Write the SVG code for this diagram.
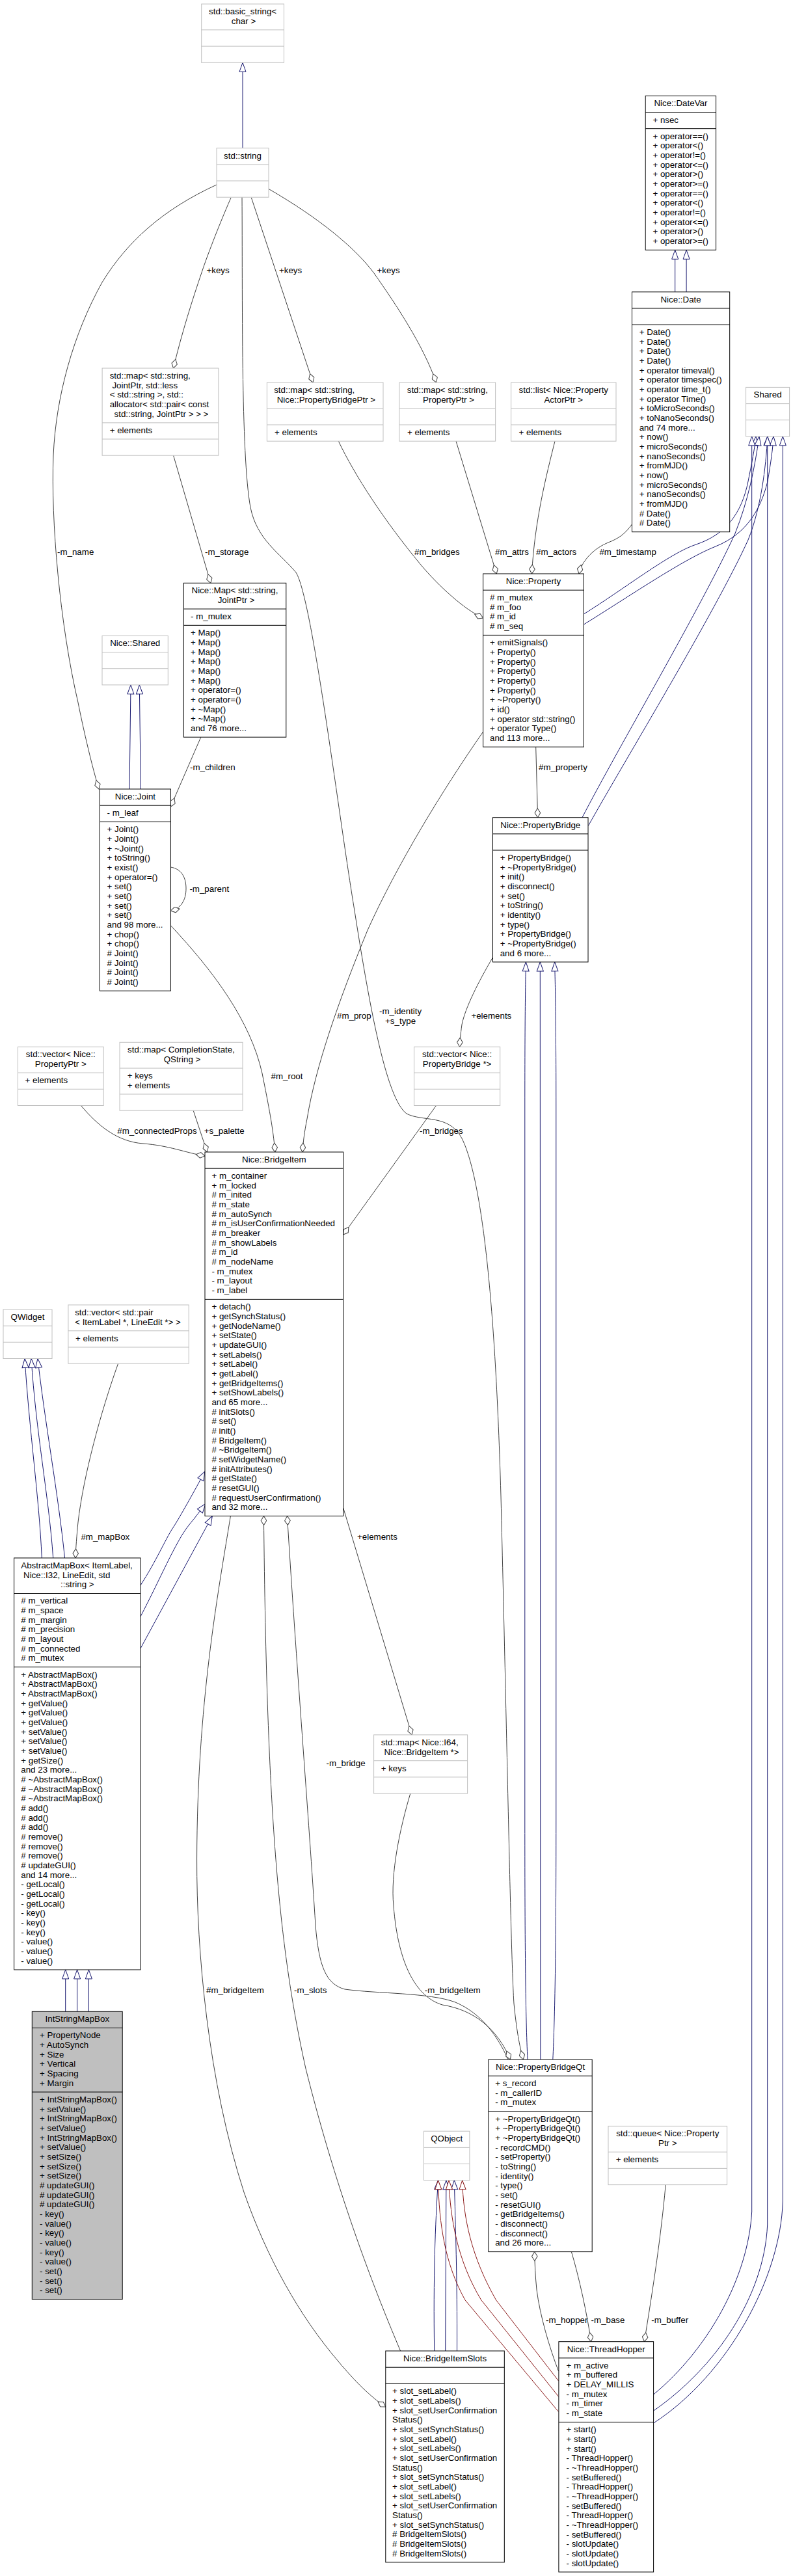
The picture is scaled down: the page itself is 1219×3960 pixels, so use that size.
<svg xmlns="http://www.w3.org/2000/svg" width="1219" height="3960" viewBox="0 0 1219 3960">
<style>
text { font-family: "Liberation Sans", Arial, Helvetica, sans-serif; font-size: 13.33px; fill: #000; }
.c { text-anchor: middle; }
.nb rect, .nb path { fill: #fff; stroke: #000; stroke-width: 1; }
.ng rect, .ng path { fill: #fff; stroke: #bfbfbf; stroke-width: 1; }
.nb path, .ng path { fill: none; }
.nb rect.hl { fill: #bfbfbf; }
.e path { fill: none; stroke: #404040; stroke-width: 1; marker-end: url(#dia); }
.i path { fill: none; stroke: #191970; stroke-width: 1; marker-end: url(#tri); }
.r path { fill: none; stroke: #8b1a1a; stroke-width: 1; marker-end: url(#trir); }
</style>
<defs>
<marker id="dia" viewBox="0 0 16 10" refX="15" refY="5" markerWidth="16" markerHeight="10" markerUnits="userSpaceOnUse" orient="auto"><path d="M1,5 L8,0.7 L15,5 L8,9.3 Z" fill="#fff" stroke="#404040" stroke-width="1"/></marker>
<marker id="tri" viewBox="0 0 16 12" refX="15" refY="6" markerWidth="16" markerHeight="12" markerUnits="userSpaceOnUse" orient="auto"><path d="M1,1 L15,6 L1,11 Z" fill="#fff" stroke="#191970" stroke-width="1"/></marker>
<marker id="trir" viewBox="0 0 16 12" refX="15" refY="6" markerWidth="16" markerHeight="12" markerUnits="userSpaceOnUse" orient="auto"><path d="M1,1 L15,6 L1,11 Z" fill="#fff" stroke="#8b1a1a" stroke-width="1"/></marker>
</defs>
<rect x="0" y="0" width="1219" height="3960" fill="#fff"/>

<g id="connectors">
<g class="i">
<path d="M373,227.7 L373,96.3"/>
<path d="M1037.7,448.8 L1037.7,384.3"/>
<path d="M1055.1,448.8 L1055.1,384.3"/>
<path d="M199,1213 L201,1052.9"/>
<path d="M216.4,1213 L214.3,1052.9"/>
<path d="M897.4,944 C960,905 1030,850 1070,837 C1115,822 1140,790 1150,740 C1156,710 1160,690 1162,670.9"/>
<path d="M897.4,960 C970,915 1050,860 1100,840 C1150,820 1170,780 1180,740 C1185,710 1188,690 1189,670.9"/>
<path d="M895,1256.7 C950,1150 1080,930 1130,820 C1150,770 1160,720 1167,670.9"/>
<path d="M904.4,1269.3 C960,1170 1100,940 1150,830 C1170,780 1177,720 1180,670.9"/>
<path d="M1004.6,3681 C1090,3610 1150,3500 1155.7,3400 L1155.7,670.9"/>
<path d="M1004.6,3706 C1100,3640 1175,3530 1179.7,3420 L1179.7,670.9"/>
<path d="M1004.6,3725 C1120,3650 1200,3500 1203.3,3384 L1203.3,670.9"/>
<path d="M811,3166 C808,3100 806.8,3000 806.8,2800 L806.8,1700 C806.8,1550 808,1500 808.4,1478.9"/>
<path d="M830.8,3166 L830.3,1478.9"/>
<path d="M849.8,3166 C853,3100 854.8,3000 854.8,2800 L854.8,1700 C854.8,1550 853,1500 852.7,1478.9"/>
<path d="M216,2437 C240,2400 255,2365 265,2350 C275,2335 300,2290 315,2262"/>
<path d="M216,2485 C245,2430 270,2370 290,2345 C300,2333 308,2322 316,2311.7"/>
<path d="M216,2534 L326.3,2330.6"/>
<path d="M64.3,2395 C60,2300 45,2200 38.1,2088.5"/>
<path d="M81.7,2395 C75,2300 55,2200 48.1,2088.5"/>
<path d="M99.5,2395 C90,2300 68,2180 58,2088.5"/>
<path d="M100.7,3092.3 L100.7,3028"/>
<path d="M118.6,3092.3 L118.6,3028"/>
<path d="M136.4,3092.3 L136.4,3028"/>
<path d="M667.7,3614 C666,3500 669,3420 673.5,3351.7"/>
<path d="M684.7,3614 L685.9,3351.7"/>
<path d="M702.5,3614 C703,3500 700,3420 698.3,3351.7"/>
</g>
<g class="r">
<path d="M858.5,3660 L762.5,3535.7 C725,3470 712,3410 710.7,3351.7"/>
<path d="M858.5,3684 L739.7,3535.7 C703,3475 692,3410 690,3351.7"/>
<path d="M858.5,3707.4 L714.9,3535.7 C684,3480 675,3420 673.5,3351.7"/>
</g>
<g class="e">
<path d="M355,304 C335,350 318,395 311,416 C296,460 280,510 266.5,566"/>
<path d="M386.4,304 L481,588"/>
<path d="M413.3,290.6 C490,335 545,380 575,420 C610,470 650,530 670.6,588"/>
<path d="M333,284 C250,322 195,372 157,434 C112,515 86,610 82,700 C78,800 92,960 120,1080 C132,1140 145,1190 152,1213"/>
<path d="M266.6,700.3 L323.8,896.3"/>
<path d="M520.3,678.2 C545,730 590,800 650,872 C685,912 720,940 742.6,950"/>
<path d="M701,678.2 L763.3,882"/>
<path d="M853,678.2 C840,730 822,800 817.5,882"/>
<path d="M971.5,806 C960,822 950,828 935,834 C915,842 895,860 890,882"/>
<path d="M823.7,1148.2 L826.6,1256.7"/>
<path d="M308.8,1133.2 L262.4,1240"/>
<path d="M262.4,1333 C280,1336 286,1350 286,1366 C286,1385 277,1397 262.4,1400"/>
<path d="M262.4,1422.8 C330,1495 385,1570 403,1650 C413,1700 420,1735 422.8,1771"/>
<path d="M742.6,1125 C680,1215 610,1330 565,1430 C520,1540 485,1640 472,1720 C468,1740 466,1755 465,1771"/>
<path d="M372,303.2 C373,450 370,700 385,780 C395,830 430,850 455,880 C480,920 520,1250 545,1400 C570,1560 595,1690 625,1712 C650,1725 690,1712 710,1750 C735,1800 760,1950 770,2300 C780,2700 785,3000 790,3080 C795,3130 800,3150 804.3,3166"/>
<path d="M757.5,1471.8 C735,1510 715,1550 710,1575 C708,1590 707,1600 706.6,1609.3"/>
<path d="M670.6,1699.5 L527.7,1898"/>
<path d="M124.4,1699.5 C150,1730 180,1755 220,1758 C260,1761 285,1772 315,1777"/>
<path d="M297.2,1707.2 L318.4,1771"/>
<path d="M527.7,2318 L633,2666.9"/>
<path d="M181.6,2096.2 C155,2170 128,2270 120,2340 C118,2360 116.5,2380 116,2395"/>
<path d="M781,3166 C765,3130 740,3095 700,3078 C660,3063 580,3065 530,3058 C500,3050 490,3020 485,2960 C475,2800 455,2550 441.5,2330.6"/>
<path d="M630.8,2757.1 C615,2810 600,2880 605,2930 C612,3020 640,3070 680,3082 C730,3090 765,3120 784.4,3166"/>
<path d="M615.6,3614 C580,3530 520,3380 470,3180 C430,3000 410,2800 405.4,2330.6"/>
<path d="M354.4,2330.6 C335,2450 303,2620 302.6,2857 C302,3000 320,3200 375,3370 C410,3470 460,3560 520,3630 C545,3660 570,3685 592.8,3700"/>
<path d="M858.5,3645 C845,3610 830,3560 825,3520 C823,3500 822,3480 821.7,3461.6"/>
<path d="M878.4,3461.6 C890,3500 903,3560 908.6,3599.7"/>
<path d="M1023.2,3358.6 C1015,3450 1000,3540 990.5,3599.7"/>
</g>
<g id="edge-labels">
<text x="317.5" y="420">+keys</text>
<text x="429" y="420">+keys</text>
<text x="579.5" y="420">+keys</text>
<text x="88" y="853">-m_name</text>
<text x="315" y="853">-m_storage</text>
<text x="637" y="853">#m_bridges</text>
<text x="761" y="853">#m_attrs</text>
<text x="824" y="853">#m_actors</text>
<text x="921.4" y="853">#m_timestamp</text>
<text x="292" y="1184">-m_children</text>
<text x="828" y="1184">#m_property</text>
<text x="291.4" y="1371">-m_parent</text>
<text x="518" y="1566">#m_prop</text>
<text x="615.6" y="1559" class="c">-m_identity</text>
<text x="615.6" y="1573.5" class="c">+s_type</text>
<text x="724.4" y="1566">+elements</text>
<text x="416.6" y="1658.5">#m_root</text>
<text x="180.3" y="1743">#m_connectedProps</text>
<text x="313.8" y="1743">+s_palette</text>
<text x="645" y="1743">-m_bridges</text>
<text x="124.4" y="2367">#m_mapBox</text>
<text x="549" y="2367">+elements</text>
<text x="501.6" y="2715">-m_bridge</text>
<text x="317" y="3064">#m_bridgeItem</text>
<text x="452" y="3064">-m_slots</text>
<text x="652.8" y="3064">-m_bridgeItem</text>
<text x="839" y="3571">-m_hopper</text>
<text x="908.6" y="3571">-m_base</text>
<text x="1001.3" y="3571">-m_buffer</text>
</g>
</g>

<g id="basic_string" class="ng">
<rect x="309.7" y="6.1" width="126.8" height="90.2"/>
<path d="M309.7,45.9 H436.5 M309.7,71.1 H436.5"/>
<text x="373.1" y="22" class="c">std::basic_string&lt;</text>
<text x="374.5" y="36.7" class="c">char &gt;</text>
</g>

<g id="std_string" class="ng">
<rect x="333" y="227.7" width="80" height="75.5"/>
<path d="M333,252.9 H413 M333,278 H413"/>
<text x="373" y="243.6" class="c">std::string</text>
</g>

<g id="map_joint" class="ng">
<rect x="157.1" y="566" width="178.7" height="134.2"/>
<path d="M157.1,649.9 H335.8 M157.1,675 H335.8"/>
<text x="168.7" y="581.9">std::map&lt; std::string,</text>
<text x="172.4" y="596.6">JointPtr, std::less</text>
<text x="168.7" y="611.2">&lt; std::string &gt;, std::</text>
<text x="168.7" y="625.9">allocator&lt; std::pair&lt; const</text>
<text x="248" y="640.6" class="c">std::string, JointPtr &gt; &gt; &gt;</text>
<text x="168.7" y="665.8">+ elements</text>
</g>

<g id="map_bridgeptr" class="ng">
<rect x="410.4" y="588" width="178.6" height="90.2"/>
<path d="M410.4,627.8 H589 M410.4,653 H589"/>
<text x="421.2" y="603.9">std::map&lt; std::string,</text>
<text x="501.4" y="618.6" class="c">Nice::PropertyBridgePtr &gt;</text>
<text x="422" y="668.9">+ elements</text>
</g>

<g id="map_propptr" class="ng">
<rect x="613.9" y="588" width="147.7" height="90.2"/>
<path d="M613.9,627.8 H761.6 M613.9,653 H761.6"/>
<text x="687.8" y="603.9" class="c">std::map&lt; std::string,</text>
<text x="689.5" y="618.6" class="c">PropertyPtr &gt;</text>
<text x="625.9" y="668.9">+ elements</text>
</g>

<g id="list_actor" class="ng">
<rect x="785.6" y="588" width="161.4" height="90.2"/>
<path d="M785.6,627.8 H947 M785.6,653 H947"/>
<text x="866.3" y="603.9" class="c">std::list&lt; Nice::Property</text>
<text x="866.3" y="618.6" class="c">ActorPtr &gt;</text>
<text x="797.6" y="668.9">+ elements</text>
</g>

<g id="DateVar" class="nb">
<rect x="992.2" y="147.4" width="108.4" height="236.9"/>
<path d="M992.2,172.6 H1100.6 M992.2,197.7 H1100.6"/>
<text x="1046.4" y="163.3" class="c">Nice::DateVar</text>
<text x="1003.4" y="188.5">+ nsec</text>
<text x="1003.4" y="213.6"><tspan>+ operator==()</tspan><tspan x="1003.4" dy="14.67">+ operator&lt;()</tspan><tspan x="1003.4" dy="14.67">+ operator!=()</tspan><tspan x="1003.4" dy="14.67">+ operator&lt;=()</tspan><tspan x="1003.4" dy="14.67">+ operator&gt;()</tspan><tspan x="1003.4" dy="14.67">+ operator&gt;=()</tspan><tspan x="1003.4" dy="14.67">+ operator==()</tspan><tspan x="1003.4" dy="14.67">+ operator&lt;()</tspan><tspan x="1003.4" dy="14.67">+ operator!=()</tspan><tspan x="1003.4" dy="14.67">+ operator&lt;=()</tspan><tspan x="1003.4" dy="14.67">+ operator&gt;()</tspan><tspan x="1003.4" dy="14.67">+ operator&gt;=()</tspan></text>
</g>

<g id="Date" class="nb">
<rect x="971.5" y="448.8" width="150.2" height="368.9"/>
<path d="M971.5,474 H1121.7 M971.5,499.1 H1121.7"/>
<text x="1046.6" y="464.7" class="c">Nice::Date</text>
<text x="982.7" y="515"><tspan>+ Date()</tspan><tspan x="982.7" dy="14.67">+ Date()</tspan><tspan x="982.7" dy="14.67">+ Date()</tspan><tspan x="982.7" dy="14.67">+ Date()</tspan><tspan x="982.7" dy="14.67">+ operator timeval()</tspan><tspan x="982.7" dy="14.67">+ operator timespec()</tspan><tspan x="982.7" dy="14.67">+ operator time_t()</tspan><tspan x="982.7" dy="14.67">+ operator Time()</tspan><tspan x="982.7" dy="14.67">+ toMicroSeconds()</tspan><tspan x="982.7" dy="14.67">+ toNanoSeconds()</tspan><tspan x="982.7" dy="14.67">and 74 more...</tspan><tspan x="982.7" dy="14.67">+ now()</tspan><tspan x="982.7" dy="14.67">+ microSeconds()</tspan><tspan x="982.7" dy="14.67">+ nanoSeconds()</tspan><tspan x="982.7" dy="14.67">+ fromMJD()</tspan><tspan x="982.7" dy="14.67">+ now()</tspan><tspan x="982.7" dy="14.67">+ microSeconds()</tspan><tspan x="982.7" dy="14.67">+ nanoSeconds()</tspan><tspan x="982.7" dy="14.67">+ fromMJD()</tspan><tspan x="982.7" dy="14.67"># Date()</tspan><tspan x="982.7" dy="14.67"># Date()</tspan></text>
</g>

<g id="Shared" class="ng">
<rect x="1146.6" y="595.4" width="67" height="75.5"/>
<path d="M1146.6,620.6 H1213.6 M1146.6,645.7 H1213.6"/>
<text x="1180.1" y="611.3" class="c">Shared</text>
</g>

<g id="NiceMap" class="nb">
<rect x="282.3" y="896.3" width="157.5" height="236.9"/>
<path d="M282.3,936.1 H439.8 M282.3,961.3 H439.8"/>
<text x="361" y="912.2" class="c">Nice::Map&lt; std::string,</text>
<text x="363" y="926.9" class="c">JointPtr &gt;</text>
<text x="293" y="952">- m_mutex</text>
<text x="293" y="977.2"><tspan>+ Map()</tspan><tspan x="293" dy="14.67">+ Map()</tspan><tspan x="293" dy="14.67">+ Map()</tspan><tspan x="293" dy="14.67">+ Map()</tspan><tspan x="293" dy="14.67">+ Map()</tspan><tspan x="293" dy="14.67">+ Map()</tspan><tspan x="293" dy="14.67">+ operator=()</tspan><tspan x="293" dy="14.67">+ operator=()</tspan><tspan x="293" dy="14.67">+ ~Map()</tspan><tspan x="293" dy="14.67">+ ~Map()</tspan><tspan x="293" dy="14.67">and 76 more...</tspan></text>
</g>

<g id="NiceShared" class="ng">
<rect x="157" y="977.4" width="101.3" height="75.5"/>
<path d="M157,1002.6 H258.3 M157,1027.7 H258.3"/>
<text x="207.7" y="993.3" class="c">Nice::Shared</text>
</g>

<g id="Joint" class="nb">
<rect x="153.4" y="1213" width="109" height="310.2"/>
<path d="M153.4,1238.2 H262.4 M153.4,1263.3 H262.4"/>
<text x="207.9" y="1228.9" class="c">Nice::Joint</text>
<text x="164.6" y="1254.1">- m_leaf</text>
<text x="164.6" y="1279.2"><tspan>+ Joint()</tspan><tspan x="164.6" dy="14.67">+ Joint()</tspan><tspan x="164.6" dy="14.67">+ ~Joint()</tspan><tspan x="164.6" dy="14.67">+ toString()</tspan><tspan x="164.6" dy="14.67">+ exist()</tspan><tspan x="164.6" dy="14.67">+ operator=()</tspan><tspan x="164.6" dy="14.67">+ set()</tspan><tspan x="164.6" dy="14.67">+ set()</tspan><tspan x="164.6" dy="14.67">+ set()</tspan><tspan x="164.6" dy="14.67">+ set()</tspan><tspan x="164.6" dy="14.67">and 98 more...</tspan><tspan x="164.6" dy="14.67">+ chop()</tspan><tspan x="164.6" dy="14.67">+ chop()</tspan><tspan x="164.6" dy="14.67"># Joint()</tspan><tspan x="164.6" dy="14.67"># Joint()</tspan><tspan x="164.6" dy="14.67"># Joint()</tspan><tspan x="164.6" dy="14.67"># Joint()</tspan></text>
</g>

<g id="Property" class="nb">
<rect x="742.6" y="882" width="154.8" height="266.2"/>
<path d="M742.6,907.2 H897.4 M742.6,976.4 H897.4"/>
<text x="820" y="897.9" class="c">Nice::Property</text>
<text x="753" y="923.1"><tspan># m_mutex</tspan><tspan x="753" dy="14.67"># m_foo</tspan><tspan x="753" dy="14.67"># m_id</tspan><tspan x="753" dy="14.67"># m_seq</tspan></text>
<text x="753" y="992.3"><tspan>+ emitSignals()</tspan><tspan x="753" dy="14.67">+ Property()</tspan><tspan x="753" dy="14.67">+ Property()</tspan><tspan x="753" dy="14.67">+ Property()</tspan><tspan x="753" dy="14.67">+ Property()</tspan><tspan x="753" dy="14.67">+ Property()</tspan><tspan x="753" dy="14.67">+ ~Property()</tspan><tspan x="753" dy="14.67">+ id()</tspan><tspan x="753" dy="14.67">+ operator std::string()</tspan><tspan x="753" dy="14.67">+ operator Type()</tspan><tspan x="753" dy="14.67">and 113 more...</tspan></text>
</g>

<g id="PropertyBridge" class="nb">
<rect x="757.5" y="1256.7" width="146.5" height="222.2"/>
<path d="M757.5,1281.9 H904 M757.5,1307 H904"/>
<text x="830.8" y="1272.6" class="c">Nice::PropertyBridge</text>
<text x="768.7" y="1322.9"><tspan>+ PropertyBridge()</tspan><tspan x="768.7" dy="14.67">+ ~PropertyBridge()</tspan><tspan x="768.7" dy="14.67">+ init()</tspan><tspan x="768.7" dy="14.67">+ disconnect()</tspan><tspan x="768.7" dy="14.67">+ set()</tspan><tspan x="768.7" dy="14.67">+ toString()</tspan><tspan x="768.7" dy="14.67">+ identity()</tspan><tspan x="768.7" dy="14.67">+ type()</tspan><tspan x="768.7" dy="14.67">+ PropertyBridge()</tspan><tspan x="768.7" dy="14.67">+ ~PropertyBridge()</tspan><tspan x="768.7" dy="14.67">and 6 more...</tspan></text>
</g>

<g id="vector_propptr" class="ng">
<rect x="27.4" y="1609.3" width="131.8" height="90.2"/>
<path d="M27.4,1649.1 H159.2 M27.4,1674.3 H159.2"/>
<text x="93.3" y="1625.2" class="c">std::vector&lt; Nice::</text>
<text x="93.3" y="1639.9" class="c">PropertyPtr &gt;</text>
<text x="38.6" y="1665">+ elements</text>
</g>

<g id="map_completion" class="ng">
<rect x="184" y="1602.3" width="189" height="104.9"/>
<path d="M184,1642.1 H373 M184,1682 H373"/>
<text x="278.5" y="1618.2" class="c">std::map&lt; CompletionState,</text>
<text x="280" y="1632.9" class="c">QString &gt;</text>
<text x="195.7" y="1658"><tspan>+ keys</tspan><tspan x="195.7" dy="14.67">+ elements</tspan></text>
</g>

<g id="vector_bridgeptr" class="ng">
<rect x="636.6" y="1609.3" width="132.1" height="90.2"/>
<path d="M636.6,1649.1 H768.7 M636.6,1674.3 H768.7"/>
<text x="702.6" y="1625.2" class="c">std::vector&lt; Nice::</text>
<text x="702.6" y="1639.9" class="c">PropertyBridge *&gt;</text>
</g>

<g id="BridgeItem" class="nb">
<rect x="315" y="1771" width="212.7" height="559.6"/>
<path d="M315,1796.2 H527.7 M315,1997.4 H527.7"/>
<text x="421.3" y="1786.9" class="c">Nice::BridgeItem</text>
<text x="325.4" y="1812.1"><tspan>+ m_container</tspan><tspan x="325.4" dy="14.67">+ m_locked</tspan><tspan x="325.4" dy="14.67"># m_inited</tspan><tspan x="325.4" dy="14.67"># m_state</tspan><tspan x="325.4" dy="14.67"># m_autoSynch</tspan><tspan x="325.4" dy="14.67"># m_isUserConfirmationNeeded</tspan><tspan x="325.4" dy="14.67"># m_breaker</tspan><tspan x="325.4" dy="14.67"># m_showLabels</tspan><tspan x="325.4" dy="14.67"># m_id</tspan><tspan x="325.4" dy="14.67"># m_nodeName</tspan><tspan x="325.4" dy="14.67">- m_mutex</tspan><tspan x="325.4" dy="14.67">- m_layout</tspan><tspan x="325.4" dy="14.67">- m_label</tspan></text>
<text x="325.4" y="2013.3"><tspan>+ detach()</tspan><tspan x="325.4" dy="14.67">+ getSynchStatus()</tspan><tspan x="325.4" dy="14.67">+ getNodeName()</tspan><tspan x="325.4" dy="14.67">+ setState()</tspan><tspan x="325.4" dy="14.67">+ updateGUI()</tspan><tspan x="325.4" dy="14.67">+ setLabels()</tspan><tspan x="325.4" dy="14.67">+ setLabel()</tspan><tspan x="325.4" dy="14.67">+ getLabel()</tspan><tspan x="325.4" dy="14.67">+ getBridgeItems()</tspan><tspan x="325.4" dy="14.67">+ setShowLabels()</tspan><tspan x="325.4" dy="14.67">and 65 more...</tspan><tspan x="325.4" dy="14.67"># initSlots()</tspan><tspan x="325.4" dy="14.67"># set()</tspan><tspan x="325.4" dy="14.67"># init()</tspan><tspan x="325.4" dy="14.67"># BridgeItem()</tspan><tspan x="325.4" dy="14.67"># ~BridgeItem()</tspan><tspan x="325.4" dy="14.67"># setWidgetName()</tspan><tspan x="325.4" dy="14.67"># initAttributes()</tspan><tspan x="325.4" dy="14.67"># getState()</tspan><tspan x="325.4" dy="14.67"># resetGUI()</tspan><tspan x="325.4" dy="14.67"># requestUserConfirmation()</tspan><tspan x="325.4" dy="14.67">and 32 more...</tspan></text>
</g>

<g id="QWidget" class="ng">
<rect x="5" y="2013" width="75" height="75.5"/>
<path d="M5,2038.2 H80 M5,2063.3 H80"/>
<text x="42.5" y="2028.9" class="c">QWidget</text>
</g>

<g id="vector_pair" class="ng">
<rect x="104.9" y="2006" width="185.3" height="90.2"/>
<path d="M104.9,2045.8 H290.2 M104.9,2071 H290.2"/>
<text x="115.2" y="2021.9">std::vector&lt; std::pair</text>
<text x="196.5" y="2036.6" class="c">&lt; ItemLabel *, LineEdit *&gt; &gt;</text>
<text x="116" y="2061.9">+ elements</text>
</g>

<g id="AbstractMapBox" class="nb">
<rect x="21.6" y="2395" width="194.4" height="633"/>
<path d="M21.6,2449.5 H216 M21.6,2562.7 H216"/>
<text x="32.3" y="2410.9">AbstractMapBox&lt; ItemLabel,</text>
<text x="36" y="2425.6">Nice::I32, LineEdit, std</text>
<text x="118.8" y="2440.3" class="c">::string &gt;</text>
<text x="32.3" y="2465.4"><tspan># m_vertical</tspan><tspan x="32.3" dy="14.67"># m_space</tspan><tspan x="32.3" dy="14.67"># m_margin</tspan><tspan x="32.3" dy="14.67"># m_precision</tspan><tspan x="32.3" dy="14.67"># m_layout</tspan><tspan x="32.3" dy="14.67"># m_connected</tspan><tspan x="32.3" dy="14.67"># m_mutex</tspan></text>
<text x="32.3" y="2578.6"><tspan>+ AbstractMapBox()</tspan><tspan x="32.3" dy="14.67">+ AbstractMapBox()</tspan><tspan x="32.3" dy="14.67">+ AbstractMapBox()</tspan><tspan x="32.3" dy="14.67">+ getValue()</tspan><tspan x="32.3" dy="14.67">+ getValue()</tspan><tspan x="32.3" dy="14.67">+ getValue()</tspan><tspan x="32.3" dy="14.67">+ setValue()</tspan><tspan x="32.3" dy="14.67">+ setValue()</tspan><tspan x="32.3" dy="14.67">+ setValue()</tspan><tspan x="32.3" dy="14.67">+ getSize()</tspan><tspan x="32.3" dy="14.67">and 23 more...</tspan><tspan x="32.3" dy="14.67"># ~AbstractMapBox()</tspan><tspan x="32.3" dy="14.67"># ~AbstractMapBox()</tspan><tspan x="32.3" dy="14.67"># ~AbstractMapBox()</tspan><tspan x="32.3" dy="14.67"># add()</tspan><tspan x="32.3" dy="14.67"># add()</tspan><tspan x="32.3" dy="14.67"># add()</tspan><tspan x="32.3" dy="14.67"># remove()</tspan><tspan x="32.3" dy="14.67"># remove()</tspan><tspan x="32.3" dy="14.67"># remove()</tspan><tspan x="32.3" dy="14.67"># updateGUI()</tspan><tspan x="32.3" dy="14.67">and 14 more...</tspan><tspan x="32.3" dy="14.67">- getLocal()</tspan><tspan x="32.3" dy="14.67">- getLocal()</tspan><tspan x="32.3" dy="14.67">- getLocal()</tspan><tspan x="32.3" dy="14.67">- key()</tspan><tspan x="32.3" dy="14.67">- key()</tspan><tspan x="32.3" dy="14.67">- key()</tspan><tspan x="32.3" dy="14.67">- value()</tspan><tspan x="32.3" dy="14.67">- value()</tspan><tspan x="32.3" dy="14.67">- value()</tspan></text>
</g>

<g id="map_bridgeitem" class="ng">
<rect x="574.6" y="2666.9" width="144" height="90.2"/>
<path d="M574.6,2706.7 H718.6 M574.6,2731.9 H718.6"/>
<text x="585.7" y="2682.8">std::map&lt; Nice::I64,</text>
<text x="648" y="2697.5" class="c">Nice::BridgeItem *&gt;</text>
<text x="585.7" y="2722.6">+ keys</text>
</g>

<g id="IntStringMapBox" class="nb">
<rect class="hl" x="49.3" y="3092.3" width="138.9" height="442.3"/>
<path d="M49.3,3117.5 H188.2 M49.3,3216 H188.2"/>
<text x="118.8" y="3108.2" class="c">IntStringMapBox</text>
<text x="61" y="3133.4"><tspan>+ PropertyNode</tspan><tspan x="61" dy="14.67">+ AutoSynch</tspan><tspan x="61" dy="14.67">+ Size</tspan><tspan x="61" dy="14.67">+ Vertical</tspan><tspan x="61" dy="14.67">+ Spacing</tspan><tspan x="61" dy="14.67">+ Margin</tspan></text>
<text x="61" y="3231.9"><tspan>+ IntStringMapBox()</tspan><tspan x="61" dy="14.67">+ setValue()</tspan><tspan x="61" dy="14.67">+ IntStringMapBox()</tspan><tspan x="61" dy="14.67">+ setValue()</tspan><tspan x="61" dy="14.67">+ IntStringMapBox()</tspan><tspan x="61" dy="14.67">+ setValue()</tspan><tspan x="61" dy="14.67">+ setSize()</tspan><tspan x="61" dy="14.67">+ setSize()</tspan><tspan x="61" dy="14.67">+ setSize()</tspan><tspan x="61" dy="14.67"># updateGUI()</tspan><tspan x="61" dy="14.67"># updateGUI()</tspan><tspan x="61" dy="14.67"># updateGUI()</tspan><tspan x="61" dy="14.67">- key()</tspan><tspan x="61" dy="14.67">- value()</tspan><tspan x="61" dy="14.67">- key()</tspan><tspan x="61" dy="14.67">- value()</tspan><tspan x="61" dy="14.67">- key()</tspan><tspan x="61" dy="14.67">- value()</tspan><tspan x="61" dy="14.67">- set()</tspan><tspan x="61" dy="14.67">- set()</tspan><tspan x="61" dy="14.67">- set()</tspan></text>
</g>

<g id="PropertyBridgeQt" class="nb">
<rect x="750.9" y="3166" width="159.3" height="295.6"/>
<path d="M750.9,3191.2 H910.2 M750.9,3245.7 H910.2"/>
<text x="830.6" y="3181.9" class="c">Nice::PropertyBridgeQt</text>
<text x="761.2" y="3207.1"><tspan>+ s_record</tspan><tspan x="761.2" dy="14.67">- m_callerID</tspan><tspan x="761.2" dy="14.67">- m_mutex</tspan></text>
<text x="761.2" y="3261.6"><tspan>+ ~PropertyBridgeQt()</tspan><tspan x="761.2" dy="14.67">+ ~PropertyBridgeQt()</tspan><tspan x="761.2" dy="14.67">+ ~PropertyBridgeQt()</tspan><tspan x="761.2" dy="14.67">- recordCMD()</tspan><tspan x="761.2" dy="14.67">- setProperty()</tspan><tspan x="761.2" dy="14.67">- toString()</tspan><tspan x="761.2" dy="14.67">- identity()</tspan><tspan x="761.2" dy="14.67">- type()</tspan><tspan x="761.2" dy="14.67">- set()</tspan><tspan x="761.2" dy="14.67">- resetGUI()</tspan><tspan x="761.2" dy="14.67">- getBridgeItems()</tspan><tspan x="761.2" dy="14.67">- disconnect()</tspan><tspan x="761.2" dy="14.67">- disconnect()</tspan><tspan x="761.2" dy="14.67">and 26 more...</tspan></text>
</g>

<g id="QObject" class="ng">
<rect x="651.5" y="3276.2" width="70.4" height="75.5"/>
<path d="M651.5,3301.4 H721.9 M651.5,3326.5 H721.9"/>
<text x="686.7" y="3292.1" class="c">QObject</text>
</g>

<g id="queue_propptr" class="ng">
<rect x="935" y="3268.4" width="182.6" height="90.2"/>
<path d="M935,3308.2 H1117.6 M935,3333.4 H1117.6"/>
<text x="1026.3" y="3284.3" class="c">std::queue&lt; Nice::Property</text>
<text x="1026.3" y="3299" class="c">Ptr &gt;</text>
<text x="946.7" y="3324.1">+ elements</text>
</g>

<g id="BridgeItemSlots" class="nb">
<rect x="592.8" y="3614" width="182.5" height="324.9"/>
<path d="M592.8,3639.2 H775.3 M592.8,3664.3 H775.3"/>
<text x="684" y="3629.9" class="c">Nice::BridgeItemSlots</text>
<text x="603.1" y="3680.2"><tspan>+ slot_setLabel()</tspan><tspan x="603.1" dy="14.67">+ slot_setLabels()</tspan><tspan x="603.1" dy="14.67">+ slot_setUserConfirmation</tspan><tspan x="603.1" dy="14.67">Status()</tspan><tspan x="603.1" dy="14.67">+ slot_setSynchStatus()</tspan><tspan x="603.1" dy="14.67">+ slot_setLabel()</tspan><tspan x="603.1" dy="14.67">+ slot_setLabels()</tspan><tspan x="603.1" dy="14.67">+ slot_setUserConfirmation</tspan><tspan x="603.1" dy="14.67">Status()</tspan><tspan x="603.1" dy="14.67">+ slot_setSynchStatus()</tspan><tspan x="603.1" dy="14.67">+ slot_setLabel()</tspan><tspan x="603.1" dy="14.67">+ slot_setLabels()</tspan><tspan x="603.1" dy="14.67">+ slot_setUserConfirmation</tspan><tspan x="603.1" dy="14.67">Status()</tspan><tspan x="603.1" dy="14.67">+ slot_setSynchStatus()</tspan><tspan x="603.1" dy="14.67"># BridgeItemSlots()</tspan><tspan x="603.1" dy="14.67"># BridgeItemSlots()</tspan><tspan x="603.1" dy="14.67"># BridgeItemSlots()</tspan></text>
</g>

<g id="ThreadHopper" class="nb">
<rect x="858.9" y="3599.7" width="145.7" height="354.2"/>
<path d="M858.9,3624.9 H1004.6 M858.9,3723.4 H1004.6"/>
<text x="931.7" y="3615.6" class="c">Nice::ThreadHopper</text>
<text x="870.5" y="3640.8"><tspan>+ m_active</tspan><tspan x="870.5" dy="14.67">+ m_buffered</tspan><tspan x="870.5" dy="14.67">+ DELAY_MILLIS</tspan><tspan x="870.5" dy="14.67">- m_mutex</tspan><tspan x="870.5" dy="14.67">- m_timer</tspan><tspan x="870.5" dy="14.67">- m_state</tspan></text>
<text x="870.5" y="3739.3"><tspan>+ start()</tspan><tspan x="870.5" dy="14.67">+ start()</tspan><tspan x="870.5" dy="14.67">+ start()</tspan><tspan x="870.5" dy="14.67">- ThreadHopper()</tspan><tspan x="870.5" dy="14.67">- ~ThreadHopper()</tspan><tspan x="870.5" dy="14.67">- setBuffered()</tspan><tspan x="870.5" dy="14.67">- ThreadHopper()</tspan><tspan x="870.5" dy="14.67">- ~ThreadHopper()</tspan><tspan x="870.5" dy="14.67">- setBuffered()</tspan><tspan x="870.5" dy="14.67">- ThreadHopper()</tspan><tspan x="870.5" dy="14.67">- ~ThreadHopper()</tspan><tspan x="870.5" dy="14.67">- setBuffered()</tspan><tspan x="870.5" dy="14.67">- slotUpdate()</tspan><tspan x="870.5" dy="14.67">- slotUpdate()</tspan><tspan x="870.5" dy="14.67">- slotUpdate()</tspan></text>
</g>
</svg>
